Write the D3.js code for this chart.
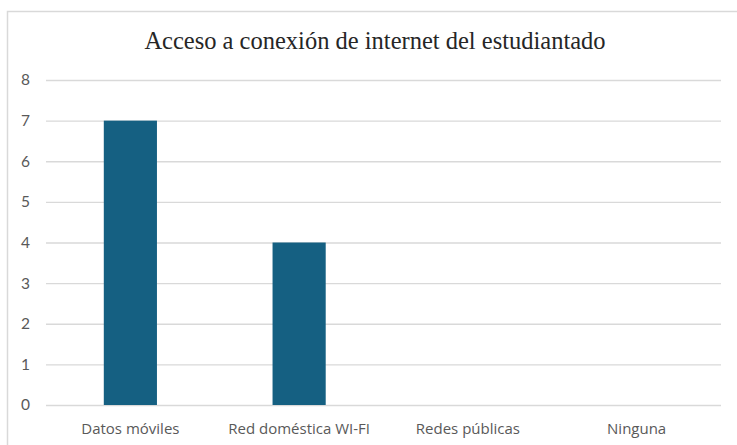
<!DOCTYPE html>
<html>
<head>
<meta charset="utf-8">
<script src="https://cdn.jsdelivr.net/npm/d3@7"></script>
<style>
  body { margin: 0; background: #fff; }
</style>
</head>
<body>
<div id="wrapper"></div>
<script>
// datos del grafico
const categories = ['Datos móviles', 'Red doméstica WI-FI', 'Redes públicas', 'Ninguna'];
const values = [7, 4, 0, 0];
const yTicks = [0, 1, 2, 3, 4, 5, 6, 7, 8];
const title = 'Acceso a conexión de internet del estudiantado';

const width = 737, height = 445;
const plot = {left: 46, right: 721, top: 80, bottom: 405};

const svg = d3.select('#wrapper')
  .append('svg')
  .attr('width', width)
  .attr('height', height);

// marco del grafico
svg.append('path')
  .attr('d', `M7.5,${height} V11.5 H${width}`)
  .attr('fill', 'none')
  .attr('stroke', '#d9d9d9')
  .attr('stroke-width', 1.5);

const x = d3.scaleBand()
  .domain(categories)
  .range([plot.left, plot.right])
  .padding(0);

const y = d3.scaleLinear()
  .domain([0, 8])
  .range([plot.bottom, plot.top]);

// lineas de cuadricula + etiquetas del eje y
const yaxis = d3.axisLeft(y).tickValues(yTicks).tickSize(-(plot.right - plot.left)).tickPadding(16);
const gy = svg.append('g')
  .attr('transform', `translate(${plot.left},0)`)
  .call(yaxis);
gy.select('.domain').remove();
gy.selectAll('.tick line').attr('stroke', '#d9d9d9').attr('stroke-width', 1.3);
gy.selectAll('.tick text')
  .attr('fill', '#595959')
  .attr('font-family', 'Lato, "Open Sans", sans-serif')
  .attr('font-size', 15.5);

// barras
const barW = x.bandwidth() * 0.315;
svg.append('g')
  .selectAll('rect')
  .data(values)
  .join('rect')
  .attr('x', (d, i) => x(categories[i]) + (x.bandwidth() - barW) / 2)
  .attr('y', d => y(d))
  .attr('width', barW)
  .attr('height', d => y(0) - y(d))
  .attr('fill', '#156082');

// eje x (solo etiquetas)
const xaxis = d3.axisBottom(x).tickSize(0).tickPadding(18);
const gx = svg.append('g')
  .attr('transform', `translate(0,${plot.bottom})`)
  .call(xaxis);
gx.select('.domain').remove();
gx.selectAll('.tick text')
  .attr('fill', '#595959')
  .attr('font-family', '"Open Sans", Lato, sans-serif')
  .attr('font-size', 15);

// titulo
svg.append('text')
  .attr('x', 375)
  .attr('y', 49)
  .attr('text-anchor', 'middle')
  .attr('font-family', '"Liberation Serif", "Times New Roman", serif')
  .attr('font-size', 24.5)
  .attr('fill', '#262626')
  .text(title);
</script>
</body>
</html>
